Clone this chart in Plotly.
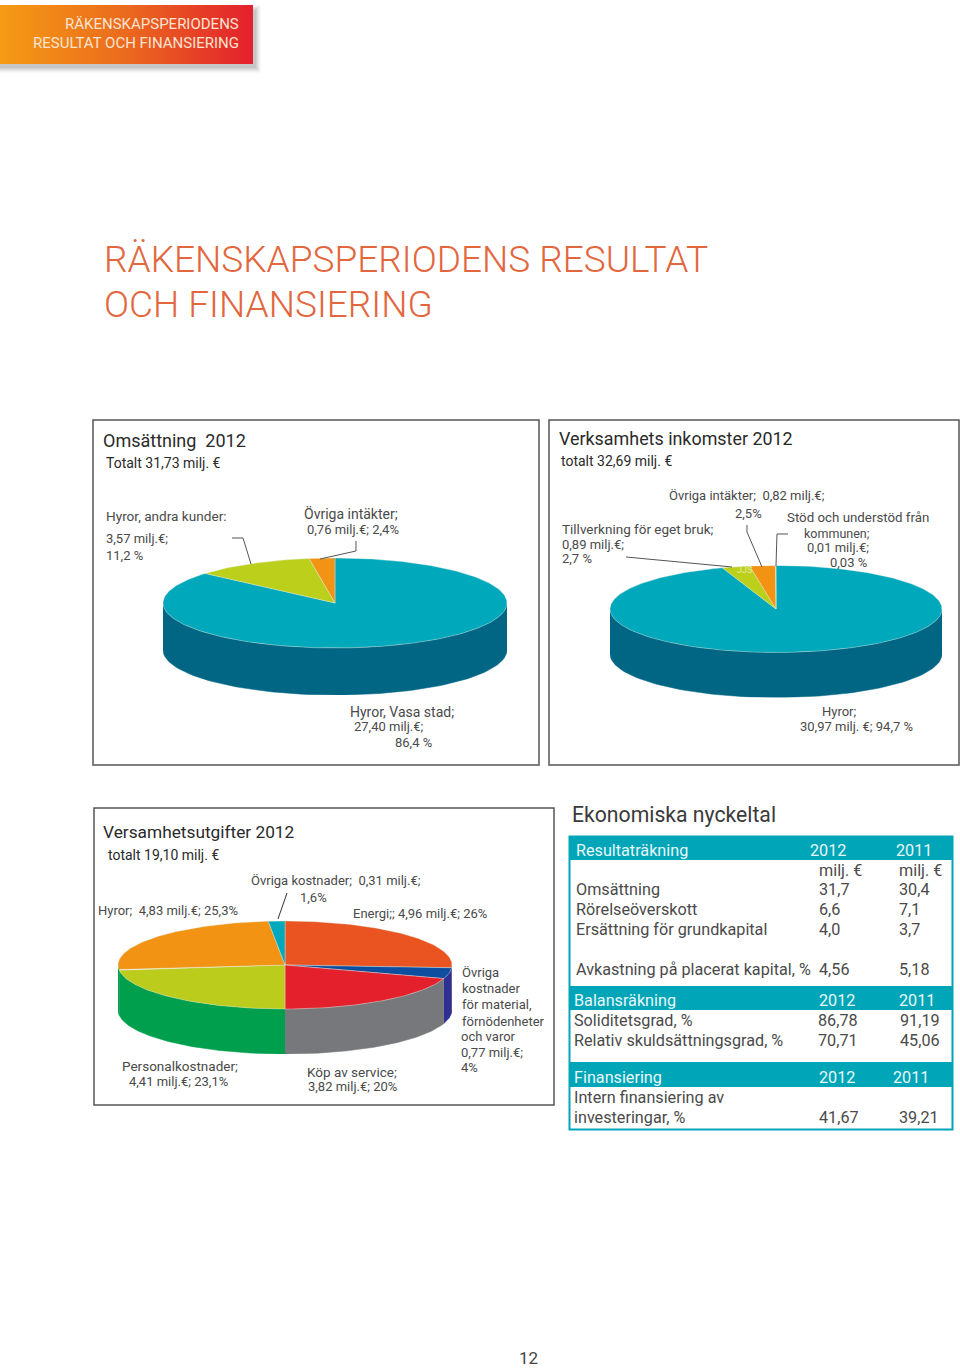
import numpy as np
import plotly.graph_objects as go

W, H = 960, 1368
FONT = "Roboto"

# ---------- data ----------
oms_labels = ["Hyror, Vasa stad", "Hyror, andra kunder", "Övriga intäkter"]
oms_values = [86.4, 11.2, 2.4]
ink_labels = ["Hyror", "Tillverkning för eget bruk", "Övriga intäkter", "Stöd och understöd från kommunen"]
ink_values = [94.7, 2.7, 2.5, 0.03]
utg_labels = ["Energi", "Övriga kostnader för material", "Köp av service", "Personalkostnader", "Hyror", "Övriga kostnader"]
utg_values = [26.0, 4.0, 20.0, 23.1, 25.3, 1.6]

oms_top = ["#00A8BC", "#BCCF1B", "#F39314"]
oms_side = ["#006684", "#006684", "#006684"]
ink_top = ["#00A8BC", "#BCCF1B", "#F39314", "#F39314"]
ink_side = ["#006684", "#006684", "#006684", "#006684"]
utg_top = ["#E95420", "#0D4EA0", "#E4202C", "#BBCC1C", "#F39314", "#00A8BC"]
utg_side = ["#A83A14", "#2E3192", "#77787B", "#009F4D", "#009F4D", "#00A8BC"]

tbl_result_rows = ["Omsättning", "Rörelseöverskott", "Ersättning för grundkapital"]
tbl_result_2012 = ["31,7", "6,6", "4,0"]
tbl_result_2011 = ["30,4", "7,1", "3,7"]
tbl_bal_rows = ["Soliditetsgrad, %", "Relativ skuldsättningsgrad, %"]
tbl_bal_2012 = ["86,78", "70,71"]
tbl_bal_2011 = ["91,19", "45,06"]

fig = go.Figure()
TEXT = "#4a4a4a"
DARK = "#2a2a2a"
TEAL = "#00A5B8"


def T(x, y, s, size=13.5, color=TEXT, anchor="left", weight=None):
    fig.add_annotation(
        xref="paper", yref="paper", x=(x - 1) / W, y=1 - y / H, text=s, showarrow=False,
        xanchor=anchor, yanchor="middle", borderpad=0, align="left",
        font=dict(family=FONT, size=size, color=color, weight=weight),
    )


def R(x0, y0, x1, y1, line=None, lw=0, fill=None, layer="below"):
    fig.add_shape(
        type="rect", xref="paper", yref="paper", x0=x0 / W, x1=x1 / W, y0=1 - y0 / H, y1=1 - y1 / H,
        line=dict(color=line, width=lw) if line else dict(width=0), fillcolor=fill, layer=layer,
    )


def L(*pts, color="#555555", width=1):
    d = "M" + " L".join(f"{p[0] / W:.5f},{1 - p[1] / H:.5f}" for p in pts)
    fig.add_shape(type="path", xref="paper", yref="paper", path=d, line=dict(color=color, width=width), layer="above")


def pie3d(values, top, side, idx, cx, cy, rx, ry, depth):
    ax, ay = ("x", "y") if idx == 1 else (f"x{idx}", f"y{idx}")
    d = depth / ry
    vals = np.array(values, float)
    edges = np.concatenate([[0], np.cumsum(vals) / vals.sum() * 2 * np.pi])
    for a0, a1, c in zip(edges[:-1], edges[1:], side):
        lo, hi = max(a0, np.pi / 2), min(a1, 3 * np.pi / 2)
        if hi <= lo:
            continue
        t = np.linspace(lo, hi, 90)
        x = np.sin(t)
        y = np.cos(t)
        fig.add_trace(go.Scatter(
            x=np.r_[x, x[::-1]], y=np.r_[y, (y - d)[::-1]], xaxis=ax, yaxis=ay, mode="lines",
            fill="toself", fillcolor=c, line=dict(color=c, width=0.5), hoverinfo="skip",
            showlegend=False, cliponaxis=False,
        ))
    for a0, a1, c in zip(edges[:-1], edges[1:], top):
        t = np.linspace(a0, a1, max(3, int((a1 - a0) * 60)))
        fig.add_trace(go.Scatter(
            x=np.r_[0, np.sin(t), 0], y=np.r_[0, np.cos(t), 0], xaxis=ax, yaxis=ay, mode="lines",
            fill="toself", fillcolor=c, line=dict(color="rgba(225,240,225,0.55)", width=0.7),
            hoverinfo="skip", showlegend=False, cliponaxis=False,
        ))
    fig.layout[f"xaxis{'' if idx == 1 else idx}"] = dict(
        domain=[(cx - rx) / W, (cx + rx) / W], range=[-1, 1], visible=False, fixedrange=True, anchor=ay)
    fig.layout[f"yaxis{'' if idx == 1 else idx}"] = dict(
        domain=[1 - (cy + ry + depth) / H, 1 - (cy - ry) / H], range=[-1 - d, 1], visible=False,
        fixedrange=True, anchor=ax)


pie3d(oms_values, oms_top, oms_side, 1, 335, 603, 172, 45, 47)
pie3d(ink_values, ink_top, ink_side, 2, 776, 609, 166, 43.5, 45)
pie3d(utg_values, utg_top, utg_side, 3, 285, 965, 167, 44, 45)

# ---------- banner with gradient ----------
for g, op in [(6, .04), (5, .05), (4, .06), (3, .07), (2, .08), (1, .09)]:
    R(0, 8 - g + 3, 253 + 2 + g, 64 + 3 + g, fill=f"rgba(90,90,90,{op})")
fig.add_trace(go.Scatter(
    x=[0, 253, 253, 0, 0], y=[5, 5, 64, 64, 5], xaxis="x4", yaxis="y4", mode="lines", fill="toself",
    line=dict(width=0), hoverinfo="skip", showlegend=False,
    fillgradient=dict(type="horizontal", colorscale=[[0, "#F49B14"], [0.5, "#EB6A1E"], [1, "#E3202D"]]),
))
fig.layout.xaxis4 = dict(domain=[0, 1], range=[0, W], visible=False, fixedrange=True, anchor="y4")
fig.layout.yaxis4 = dict(domain=[0, 1], range=[H, 0], visible=False, fixedrange=True, anchor="x4")
T(241, 24, "RÄKENSKAPSPERIODENS", 15, "#FBE3D0", "right")
T(241, 43, "RESULTAT OCH FINANSIERING", 15, "#FBE3D0", "right")

# ---------- main title ----------
TC = "#E2663E"
T(104, 260, "RÄKENSKAPSPERIODENS RESULTAT", 37, TC, weight=300)
T(104, 304, "OCH FINANSIERING", 37, TC, weight=300)

# ---------- boxes ----------
R(93, 420, 539, 765, "#555555", 1.5)
R(549, 420, 959, 765, "#555555", 1.5)
R(94, 808, 554, 1105, "#555555", 1.5)

# box 1
T(103, 440, "Omsättning  2012", 18, DARK)
T(106, 463, "Totalt 31,73 milj. €", 14, DARK)
T(106, 516, "Hyror, andra kunder:", 13.6)
T(106, 538, "3,57 milj.€;", 13)
T(106, 555, "11,2 %", 13)
T(304, 514, "Övriga intäkter;", 14)
T(307, 529, "0,76 milj.€; 2,4%", 13)
T(350, 712, "Hyror, Vasa stad;", 14)
T(354, 726, "27,40 milj.€;", 13)
T(395, 742, "86,4 %", 13)
L((232, 538), (243, 538), (251, 564))
L((320, 559), (356, 551), (356, 541))

# box 2
T(559, 438, "Verksamhets inkomster 2012", 17.9, DARK)
T(561, 461, "totalt 32,69 milj. €", 14, DARK)
T(669, 495, "Övriga intäkter;  0,82 milj.€;", 13)
T(735, 513, "2,5%", 13)
T(787, 517.5, "Stöd och understöd från", 13.3)
T(804, 533.5, "kommunen;", 12.5)
T(807, 547, "0,01 milj.€;", 13)
T(830, 562, "0,03 %", 13)
T(562, 529, "Tillverkning för eget bruk;", 13.5)
T(562, 544, "0,89 milj.€;", 13)
T(562, 558, "2,7 %", 13)
T(737, 570, "JJS", 9, "#E6EC9A")
T(822, 711, "Hyror;", 13)
T(800, 726, "30,97 milj. €; 94,7 %", 13)
L((626, 557), (732, 567))
L((747, 525), (747, 532), (762, 567))
L((788, 534), (777, 534), (776, 566))

# box 3
T(103, 832, "Versamhetsutgifter 2012", 17.3, DARK)
T(108, 855, "totalt 19,10 milj. €", 14, DARK)
T(251, 880, "Övriga kostnader;  0,31 milj.€;", 13)
T(300, 897, "1,6%", 13)
T(98, 910, "Hyror;  4,83 milj.€; 25,3%", 13)
T(353, 913, "Energi;; 4,96 milj.€; 26%", 13)
L((287, 893), (278, 919), color="#333333")
for y, s, x in [(972, "Övriga", 462), (988, "kostnader", 462), (1004, "för material,", 462),
                (1021, "förnödenheter", 462), (1036, "och varor", 461), (1052, "0,77 milj.€;", 461), (1067, "4%", 461)]:
    T(x, y, s, 13)
T(122, 1066, "Personalkostnader;", 13.5)
T(129, 1081, "4,41 milj.€; 23,1%", 13)
T(307, 1072, "Köp av service;", 13.5)
T(308, 1086, "3,82 milj.€; 20%", 13)

# ---------- table ----------
T(572, 814, "Ekonomiska nyckeltal", 21.2, "#3a3a3a")
R(569.5, 836.5, 952.5, 1129.5, TEAL, 2)
R(569, 836, 953, 860, fill=TEAL)
R(569, 986, 953, 1010, fill=TEAL)
R(569, 1062, 953, 1087, fill=TEAL)
TS = 16.2
T(576, 850, "Resultaträkning", TS, "#E8F8F8")
T(810, 850, "2012", TS, "#E8F8F8")
T(896, 850, "2011", TS, "#E8F8F8")
T(819, 870, "milj. €", TS)
T(899, 870, "milj. €", TS)
for y, s, a, b in zip([889, 909, 929], tbl_result_rows, tbl_result_2012, tbl_result_2011):
    T(576, y, s, TS)
    T(819, y, a, TS)
    T(899, y, b, TS)
T(576, 969, "Avkastning på placerat kapital, %", TS)
T(819, 969, "4,56", TS)
T(899, 969, "5,18", TS)
T(574, 1000, "Balansräkning", TS, "#E8F8F8")
T(819, 1000, "2012", TS, "#E8F8F8")
T(899, 1000, "2011", TS, "#E8F8F8")
for y, s, a, b in zip([1020, 1040], tbl_bal_rows, tbl_bal_2012, tbl_bal_2011):
    T(574, y, s, TS)
    T(818, y, a, TS)
    T(900, y, b, TS)
T(574, 1077, "Finansiering", TS, "#E8F8F8")
T(819, 1077, "2012", TS, "#E8F8F8")
T(893, 1077, "2011", TS, "#E8F8F8")
T(574, 1097, "Intern finansiering av", TS)
T(574, 1117, "investeringar, %", TS)
T(819, 1117, "41,67", TS)
T(899, 1117, "39,21", TS)

T(529, 1357.5, "12", 17, "#444444", "center")

fig.update_layout(
    width=W, height=H, margin=dict(l=0, r=0, t=0, b=0), autosize=False,
    paper_bgcolor="white", plot_bgcolor="rgba(0,0,0,0)", showlegend=False,
)
fig.write_html("out.html", config={"displayModeBar": False},
               post_script="document.body.style.margin='0';document.body.style.overflow='hidden';")
